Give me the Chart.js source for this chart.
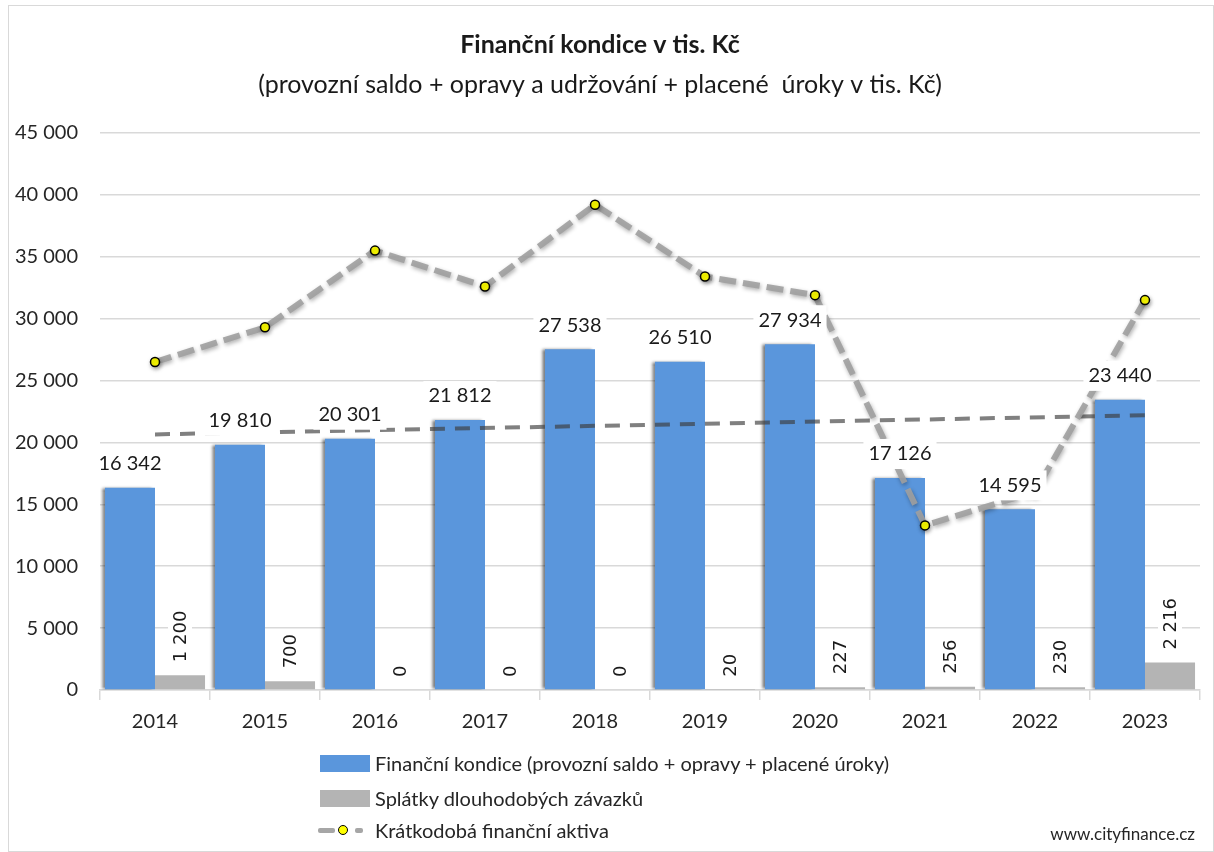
<!DOCTYPE html>
<html>
<head>
<meta charset="utf-8">
<script src="https://cdn.jsdelivr.net/npm/chart.js@4.4.1/dist/chart.umd.min.js"></script>
<style>
  html, body { margin: 0; padding: 0; background: #fff; }
  #wrap { position: relative; width: 1214px; height: 852px; font-family: Lato, sans-serif; color: #262626; }
  #frame { position: absolute; left: 8px; top: 5px; width: 1206px; height: 847px; border: 1px solid #d9d9d9; box-sizing: border-box; pointer-events: none; }
  canvas { position: absolute; left: 0; top: 0; }
  .leg { position: absolute; left: 320px; height: 24px; display: flex; align-items: center; font-size: 20px; white-space: nowrap; }
  .sw { width: 50px; height: 17px; margin-right: 5px; }
  .mk { position: relative; width: 55px; height: 24px; }
  .mk .d { position: absolute; top: 10px; height: 5px; background: #a6a6a6; border-radius: 2px; }
  .mk .p { position: absolute; top: 7px; left: 18px; width: 8px; height: 8px; border-radius: 50%; background: #ffff00; border: 1.5px solid #000; }
  #web { position: absolute; right: 19px; top: 823px; font-size: 17px; color: #262626; }
</style>
</head>
<body>
<div id="wrap">
  <canvas id="finChart" width="1214" height="852"></canvas>
  <div id="frame"></div>
  <div id="legend"></div>
  <div id="web">www.cityfinance.cz</div>
</div>
<script>
const years = ['2014', '2015', '2016', '2017', '2018', '2019', '2020', '2021', '2022', '2023']
const kondice = [16342, 19810, 20301, 21812, 27538, 26510, 27934, 17126, 14595, 23440]
const splatky = [1200, 700, 0, 0, 0, 20, 227, 256, 230, 2216]
const aktiva = [26500, 29300, 35500, 32600, 39200, 33400, 31900, 13300, 16000, 31500]
// trend line of the bars, only both ends
const trend = [20650, null, null, null, null, null, null, null, null, 22200]

const fmt = v => String(v).replace(/\B(?=(\d{3})+(?!\d))/g, ' ')

const shadows = {
  id: 'shadows',
  beforeDatasetDraw(chart, args) {
    const s = chart.data.datasets[args.index].shadow
    if (!s) return
    const ctx = chart.ctx
    ctx.save()
    ctx.shadowColor = s.color
    ctx.shadowBlur = s.blur
    ctx.shadowOffsetX = s.x
    ctx.shadowOffsetY = s.y
  },
  afterDatasetDraw(chart, args) {
    if (chart.data.datasets[args.index].shadow) chart.ctx.restore()
  }
}

const barLabels = {
  id: 'barLabels',
  afterDatasetsDraw(chart) {
    const ctx = chart.ctx
    ctx.save()
    ctx.font = '20px Lato'
    ctx.textAlign = 'center'
    ctx.textBaseline = 'middle'
    chart.getDatasetMeta(0).data.forEach((bar, i) => {
      const txt = fmt(kondice[i])
      const w = ctx.measureText(txt).width + 10
      const y = bar.y - 24
      ctx.fillStyle = '#fff'
      ctx.fillRect(bar.x - w / 2, y - 15, w, 30)
      ctx.fillStyle = '#1a1a1a'
      ctx.fillText(txt, bar.x, y)
    })

    ctx.font = '18px "DejaVu Sans"'
    ctx.textAlign = 'left'
    chart.getDatasetMeta(1).data.forEach((bar, i) => {
      const txt = fmt(splatky[i])
      ctx.save()
      ctx.translate(bar.x, bar.y - 13)
      ctx.rotate(-Math.PI / 2)
      const w = ctx.measureText(txt).width
      ctx.fillStyle = '#fff'
      ctx.fillRect(-3, -12, w + 6, 24)
      ctx.fillStyle = '#1a1a1a'
      ctx.fillText(txt, 0, 1)
      ctx.restore()
    })
    ctx.restore()
  }
}

const chart = new Chart(document.getElementById('finChart'), {
  type: 'bar',
  data: {
    labels: years,
    datasets: [
      {
        label: 'Finanční kondice (provozní saldo + opravy + placené úroky)',
        data: kondice,
        backgroundColor: '#5a96dc',
        categoryPercentage: 0.91,
        barPercentage: 1,
        order: 3,
        shadow: { color: 'rgba(0,0,0,0.55)', blur: 3, x: -3, y: 0 }
      },
      {
        label: 'Splátky dlouhodobých závazků',
        data: splatky,
        backgroundColor: '#b4b4b4',
        categoryPercentage: 0.91,
        barPercentage: 1,
        order: 3
      },
      {
        type: 'line',
        label: 'Krátkodobá finanční aktiva',
        data: aktiva,
        borderColor: 'rgba(160,160,160,0.9)',
        borderWidth: 6,
        borderDash: [17, 7],
        pointRadius: 4.5,
        pointBackgroundColor: '#ffff00',
        pointBorderColor: '#000',
        pointBorderWidth: 1.5,
        tension: 0,
        order: 0,
        shadow: { color: 'rgba(0,0,0,0.35)', blur: 4, x: 1, y: 2 }
      },
      {
        type: 'line',
        label: 'trend',
        data: trend,
        spanGaps: true,
        borderColor: 'rgba(60,60,60,0.65)',
        borderWidth: 4,
        borderDash: [15, 10],
        pointRadius: 0,
        order: 1
      }
    ]
  },
  options: {
    responsive: false,
    animation: false,
    layout: { padding: { left: 0, right: 14, bottom: 108, top: 0 } },
    plugins: {
      legend: { display: false },
      tooltip: { enabled: false },
      title: {
        display: true,
        text: 'Finanční kondice v tis. Kč',
        color: '#1a1a1a',
        font: { family: 'Lato', size: 25, weight: 'bold', lineHeight: 1.2 },
        padding: { top: 30, bottom: 10 }
      },
      subtitle: {
        display: true,
        text: '(provozní saldo + opravy a udržování + placené  úroky v tis. Kč)',
        color: '#1a1a1a',
        font: { family: 'Lato', size: 25, lineHeight: 1.2 },
        padding: { top: 0, bottom: 33 }
      }
    },
    scales: {
      x: {
        grid: { display: true, drawOnChartArea: false, tickLength: 10, color: '#d9d9d9', lineWidth: 1.5 },
        border: { color: '#d9d9d9', width: 1.5 },
        ticks: { color: '#262626', font: { family: 'Lato', size: 20 }, padding: 10 }
      },
      y: {
        min: 0,
        max: 45000,
        ticks: { stepSize: 5000, color: '#262626', font: { family: 'Lato', size: 20 }, padding: 22, callback: v => fmt(v) },
        grid: { color: '#d9d9d9', lineWidth: 1.5, drawTicks: false },
        border: { display: false },
        afterFit: s => { s.width = 100 }
      }
    }
  },
  plugins: [shadows, barLabels]
})

// html legend, built from the datasets
const legend = document.getElementById('legend')
const tops = [751, 786, 818]
chart.data.datasets.slice(0, 3).forEach((ds, i) => {
  const row = document.createElement('div')
  row.className = 'leg'
  row.style.top = tops[i] + 'px'
  if (ds.type === 'line') {
    row.innerHTML = '<div class="mk"><div class="d" style="left:-2px;width:17px"></div><div class="p"></div><div class="d" style="left:35px;width:8px"></div></div>'
  } else {
    row.innerHTML = '<div class="sw" style="background:' + ds.backgroundColor + '"></div>'
  }
  const span = document.createElement('span')
  span.textContent = ds.label
  row.appendChild(span)
  legend.appendChild(row)
})
</script>
</body>
</html>
